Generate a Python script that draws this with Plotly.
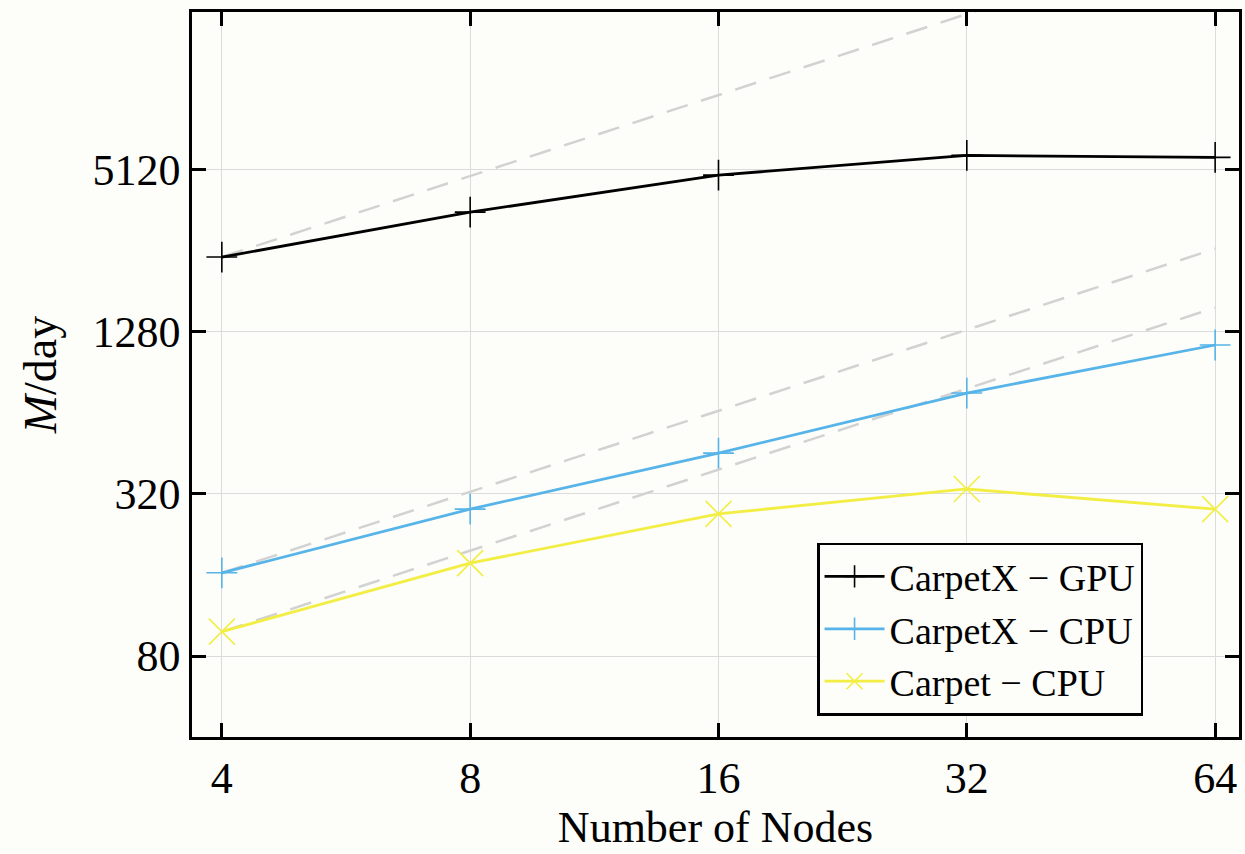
import plotly.graph_objects as go

# Strong-scaling throughput (M/day) versus node count
nodes = [4, 8, 16, 32, 64]
carpetx_gpu = [2430, 3570, 4900, 5800, 5700]
carpetx_cpu = [163, 281, 454, 759, 1145]
carpet_cpu = [98.5, 177, 270, 334, 281]

x_ticks = [4, 8, 16, 32, 64]
y_ticks = [80, 320, 1280, 5120]

FONT = "Liberation Serif"
GRID = "#dcdcdc"
IDEAL = "#d2d2d2"
BG = "#fdfdf9"

fig = go.Figure()

# Ideal linear-scaling references from each series' first point
for series in (carpetx_gpu, carpetx_cpu, carpet_cpu):
    ideal = [series[0] * n / nodes[0] for n in nodes]
    fig.add_trace(go.Scatter(
        x=nodes, y=ideal, mode="lines",
        line=dict(color=IDEAL, width=2.5, dash="22px,14px"),
        showlegend=False, hoverinfo="skip",
    ))

fig.add_trace(go.Scatter(
    x=nodes, y=carpetx_gpu, mode="lines+markers", name="CarpetX − GPU",
    line=dict(color="black", width=2.8),
    marker=dict(symbol="cross-thin", size=22, line=dict(color="black", width=1.6)),
    cliponaxis=False,
))
fig.add_trace(go.Scatter(
    x=nodes, y=carpetx_cpu, mode="lines+markers", name="CarpetX − CPU",
    line=dict(color="#56B4E9", width=2.8),
    marker=dict(symbol="cross-thin", size=22, line=dict(color="#56B4E9", width=1.6)),
    cliponaxis=False,
))
fig.add_trace(go.Scatter(
    x=nodes, y=carpet_cpu, mode="lines+markers", name="Carpet − CPU",
    line=dict(color="#F2EE44", width=2.8),
    marker=dict(symbol="x-thin", size=26, line=dict(color="#F2EE44", width=1.6)),
    cliponaxis=False,
))

axis_common = dict(
    type="log",
    showline=True, linecolor="black", linewidth=2.5, mirror="allticks",
    ticks="inside", ticklen=14, tickwidth=2.5, tickcolor="black",
    showgrid=True, gridcolor=GRID, gridwidth=1,
    zeroline=False,
    tickfont=dict(family=FONT, size=44, color="black"),
)

fig.update_layout(
    width=1245, height=854,
    margin=dict(l=192, r=3, t=12, b=117),
    paper_bgcolor=BG, plot_bgcolor=BG,
    font=dict(family=FONT, color="black"),
    xaxis=dict(
        **axis_common,
        range=[0.5659, 1.8351],
        tickvals=x_ticks, ticktext=[str(v) for v in x_ticks],
        title=dict(text="Number of Nodes", font=dict(family=FONT, size=44), standoff=2),
    ),
    yaxis=dict(
        **axis_common,
        range=[1.60206, 4.2963],
        tickvals=y_ticks, ticktext=[str(v) for v in y_ticks],
        title=dict(text="<i>M</i>/day", font=dict(family=FONT, size=46), standoff=22),
    ),
    legend=dict(
        x=0.597, y=0.268, xanchor="left", yanchor="top",
        bgcolor=BG, bordercolor="black", borderwidth=2.5,
        font=dict(family=FONT, size=38, color="black"),
        tracegroupgap=0, itemwidth=60,
    ),
)

fig.write_html("out.html")
